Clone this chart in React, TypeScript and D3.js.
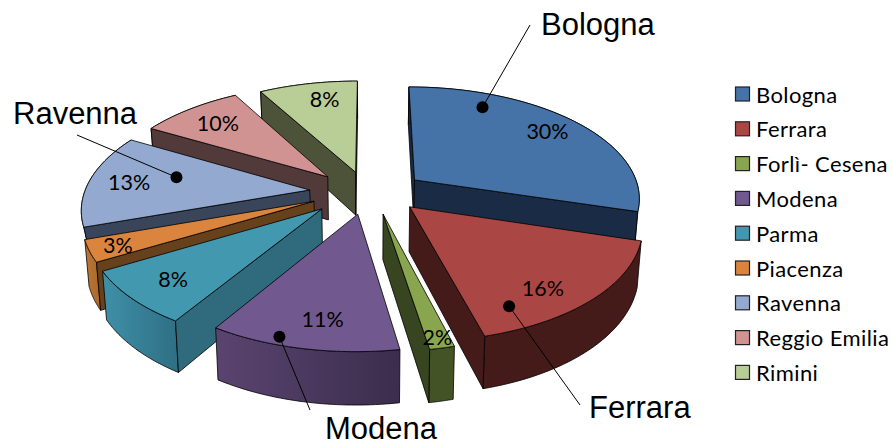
import React from "react";
import * as d3 from "d3";

const categories = ["Bologna", "Ferrara", "Forlì- Cesena", "Modena", "Parma", "Piacenza", "Ravenna", "Reggio Emilia", "Rimini"];
const shares = [29.6, 16.3, 1.5, 11.45, 7.8, 3.1, 13.4, 8.6, 8.25];
const percentLabels = [30, 16, 2, 11, 8, 3, 13, 10, 8];
const topColors = ["#4572A7", "#AA4643", "#89A54E", "#71588F", "#4198AF", "#DB843D", "#93A9CF", "#D19392", "#B9CD96"];
const wallColors = ["#1A2C45", "#451B1A", "#374520", "#3E3050", "#2F6B7D", "#67401C", "#39455A", "#52393A", "#4C5339"];
const rimFrom = ["#1A2C45", "#451B1A", "#435326", "#5A4470", "#3F90A8", "#BC7734", "#39455A", "#52393A", "#4C5339"];
const rimTo = ["#1A2C45", "#451B1A", "#435326", "#3B2D4C", "#2F7085", "#AD6C2E", "#39455A", "#52393A", "#4C5339"];
const drawOrder = [8, 7, 6, 5, 4, 3, 0, 1, 2];
const explodeScale = [0.93, 0.92, 1, 1, 1.08, 1, 1, 1, 0.95];
const depthScale = [1, 1, 1, 1, 1, 1, 0.4, 1, 1];
const labelRadius = [0.82, 0.82, 0.93, 0.8, 0.8, 0.88, 0.82, 0.78, 0.8];
const labelTurn = [0.5, 0.6, 0.5, 0.45, 0.5, 0.5, 0.5, 0.5, 0.6];
const callouts = [
  { slice: 0, name: "Bologna", r: 0.84, t: 0.24, lx: 530, ly: 25, tx: 541, ty: 35 },
  { slice: 1, name: "Ferrara", r: 0.85, t: 0.82, lx: 580, ly: 405, tx: 589, ty: 418 },
  { slice: 3, name: "Modena", r: 0.95, t: 0.65, lx: 310, ly: 410, tx: 325, ty: 439 },
  { slice: 6, name: "Ravenna", r: 0.62, t: 0.62, lx: 77, ly: 135, tx: 13, ty: 124 },
];

const cx = 370, cy = 192, R = 225, Rk = 110, persp = 0.147, depth = 44;
const explodeX = 0.27, explodeY = 0.2, radius = 1;

type P = [number, number];
const project = (u: number, v: number, drop = 0): P => {
  const w = 1 + persp * v;
  const shrink = drop ? 0.985 : 1;
  return [cx + (shrink * R * u) / w, cy - (Rk * v) / w + drop / w];
};

const arcs = d3.pie<number>().sort(null).value((d) => d)(shares);

const pathOf = (pts: P[]) => (d3.line()(pts) as string) + "Z";

export default function App() {
  const faces = arcs.map((a, i) => {
    const mid = (a.startAngle + a.endAngle) / 2;
    const ou = explodeScale[i] * explodeX * Math.sin(mid), ov = explodeScale[i] * explodeY * Math.cos(mid);
    const at = (ang: number, r: number, drop = 0) =>
      project(ou + r * Math.sin(ang), ov + r * Math.cos(ang), drop);
    const steps = d3.range(0, 41).map((k) => a.startAngle + ((a.endAngle - a.startAngle) * k) / 40);
    const h = depth * depthScale[i];
    const rimTop = steps.map((s) => at(s, radius));
    const rimBot = steps.map((s) => at(s, radius, h));
    return { i, a, mid, at, rimTop, rimBot, h };
  });

  const slices = drawOrder.map((i) => {
    const f = faces[i];
    const apex = f.at(0, 0), apexB = f.at(0, 0, f.h);
    const s = f.rimTop[0], sB = f.rimBot[0], e = f.rimTop[40], eB = f.rimBot[40];
    const xs = f.rimTop.map((p) => p[0]);
    return (
      <g key={i} stroke="#000" strokeWidth={0.8} strokeLinejoin="round">
        <linearGradient id={"rim" + i} gradientUnits="userSpaceOnUse" x1={d3.min(xs)} x2={d3.max(xs)} y1={0} y2={0}>
          <stop offset="0" stopColor={rimFrom[i]} />
          <stop offset="1" stopColor={rimTo[i]} />
        </linearGradient>
        <path d={pathOf([...f.rimTop, ...[...f.rimBot].reverse()])} fill={`url(#rim${i})`} />
        {s[0] < apex[0] && <path d={pathOf([apex, s, sB, apexB])} fill={wallColors[i]} />}
        {e[0] > apex[0] && <path d={pathOf([apex, e, eB, apexB])} fill={wallColors[i]} />}
        <path d={pathOf([apex, ...f.rimTop])} fill={topColors[i]} />
      </g>
    );
  });

  return (
    <svg width={893} height={443} style={{ position: "absolute", left: 0, top: 0, background: "#fff" }}>
      {slices}
      {faces.map((f) => {
        const ang = f.a.startAngle + (f.a.endAngle - f.a.startAngle) * labelTurn[f.i];
        const [x, y] = f.at(ang, labelRadius[f.i]);
        return (
          <text key={f.i} x={x} y={y} textAnchor="middle" dominantBaseline="central" fontFamily="Lato" fontSize={21.5} fill="#000">
            {percentLabels[f.i]}%
          </text>
        );
      })}
      {callouts.map((c) => {
        const f = faces[c.slice];
        const [x, y] = f.at(f.a.startAngle + (f.a.endAngle - f.a.startAngle) * c.t, c.r);
        return (
          <g key={c.name}>
            <line x1={x} y1={y} x2={c.lx} y2={c.ly} stroke="#000" strokeWidth={1} />
            <circle cx={x} cy={y} r={6} fill="#000" />
            <text x={c.tx} y={c.ty} fontFamily="Liberation Sans" fontSize={31} fill="#000">{c.name}</text>
          </g>
        );
      })}
      {categories.map((c, i) => {
        const y = 94 + i * 34.8;
        return (
          <g key={c}>
            <rect x={735.5} y={y - 7} width={14} height={14} fill={topColors[i]} stroke="#222" strokeWidth={1.2} />
            <text x={756} y={y} dominantBaseline="central" fontFamily="Lato" fontSize={22} letterSpacing={0.4} fill="#000">{c}</text>
          </g>
        );
      })}
    </svg>
  );
}
